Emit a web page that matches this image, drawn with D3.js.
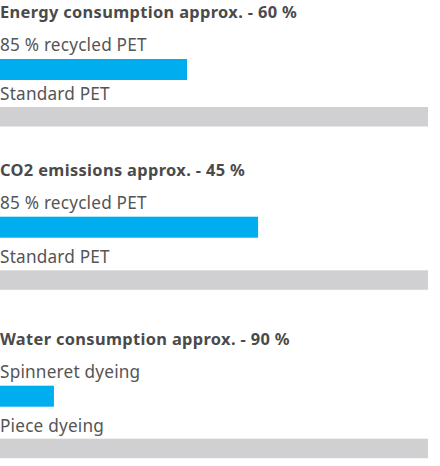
<!DOCTYPE html>
<html>
<head>
<meta charset="utf-8">
<script src="https://cdn.jsdelivr.net/npm/d3@7"></script>
<style>
  html, body { margin: 0; padding: 0; background: #fff; }
  #chart { width: 440px; height: 466px; }
  text { font-family: "Noto Sans", "Open Sans", sans-serif; }
</style>
</head>
<body>
<div id="chart"></div>
<script>
// data
const titles = [
    "Energy consumption approx. - 60 %",
    "CO2 emissions approx. - 45 %",
    "Water consumption approx. - 90 %"
];
const newLabels = ["85 % recycled PET", "85 % recycled PET", "Spinneret dyeing"];
const oldLabels = ["Standard PET", "Standard PET", "Piece dyeing"];
const newValues = [43.7, 60.3, 12.6];
const oldValues = [100, 100, 100];

// layout (title baselines and second row offsets)
const sectionTop = [18.3, 176, 345];
const secondRow = [81.7, 87.3, 86.7];

var width = 428;

var x = d3.scaleLinear()
    .domain([0, 100])
    .range([0, width]);

var svg = d3.select("#chart")
    .append("svg")
        .attr("width", 440)
        .attr("height", 466);

var sections = titles.map(function(t, i) {
    return {
        title: t,
        top: sectionTop[i],
        second: secondRow[i],
        rows: [
            {label: newLabels[i], value: newValues[i], color: "#00adef", dy: 0},
            {label: oldLabels[i], value: oldValues[i], color: "#d0d0d2", dy: 1}
        ]
    };
});

var g = svg.selectAll("g.section")
    .data(sections)
    .enter()
    .append("g")
        .attr("class", "section")
        .attr("transform", function(d) { return "translate(0," + d.top + ")"; });

g.append("text")
    .attr("x", 0)
    .attr("y", 0)
    .attr("fill", "#4a4a4a")
    .style("font-size", "16.4px")
    .style("font-weight", "bold")
    .style("letter-spacing", "0.35px")
    .text(function(d) { return d.title; });

var rows = g.selectAll("g.row")
    .data(function(d) {
        return d.rows.map(function(r) {
            return Object.assign({}, r, {y: r.dy ? d.second : 32.7});
        });
    })
    .enter()
    .append("g")
        .attr("class", "row")
        .attr("transform", function(d) { return "translate(0," + d.y + ")"; });

rows.append("text")
    .attr("x", 0)
    .attr("y", 0)
    .attr("fill", "#555")
    .style("font-size", "17.2px")
    .style("letter-spacing", "0.2px")
    .text(function(d) { return d.label; });

rows.append("rect")
    .attr("x", x(0))
    .attr("y", function(d) { return d.dy ? 7 : 8; })
    .attr("width", function(d) { return x(d.value) - x(0); })
    .attr("height", function(d) { return d.dy ? 19.5 : 21; })
    .attr("fill", function(d) { return d.color; });
</script>
</body>
</html>
